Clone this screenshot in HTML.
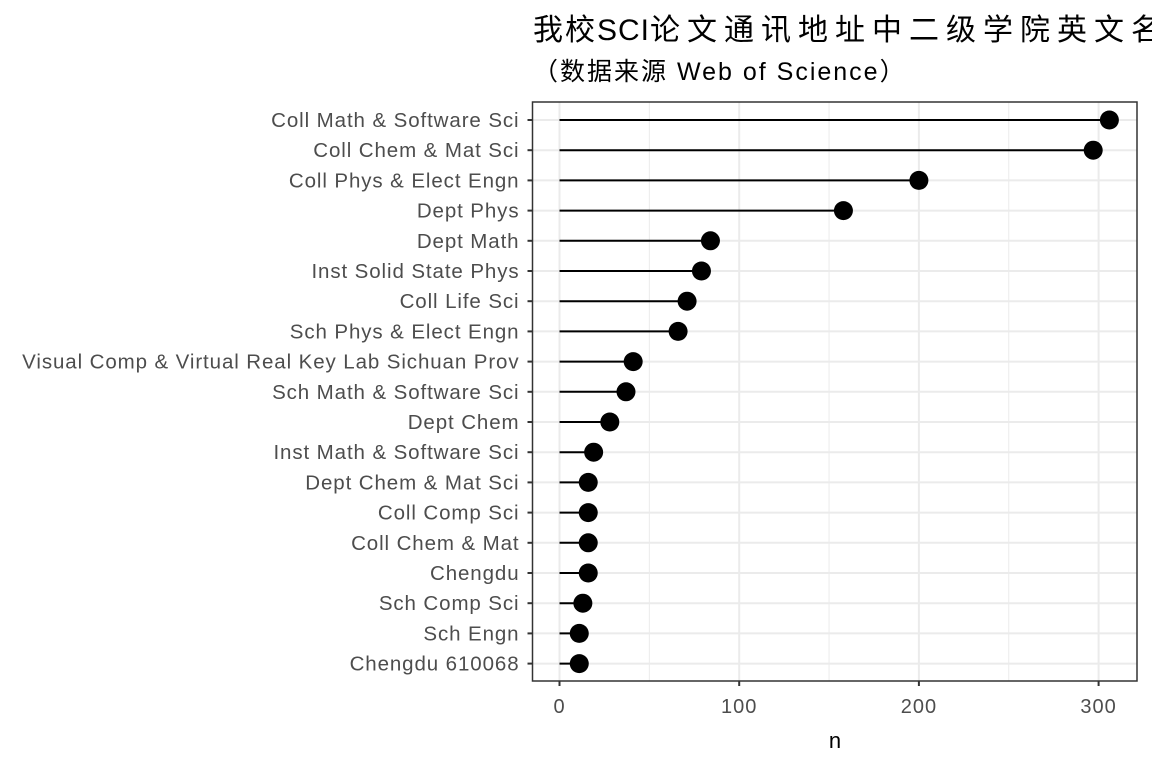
<!DOCTYPE html>
<html><head><meta charset="utf-8"><style>
body{margin:0;background:#fff;width:1152px;height:768px;overflow:hidden}
svg text{font-family:"Liberation Sans","Noto Sans CJK SC",sans-serif}
</style></head><body>
<svg id="chart" width="1152" height="768">
<text x="533" y="40" font-size="30" fill="#000"><tspan letter-spacing="2">我校</tspan><tspan letter-spacing="1">SCI</tspan><tspan letter-spacing="7">论文通讯地址中二级学院英文名称</tspan></text>
<text x="533" y="80" font-size="25" letter-spacing="2" fill="#000">（数据来源 Web of Science）</text>
<g id="grid"></g><g id="marks"></g><g id="axes"></g>
<text x="835" y="748" font-size="22" text-anchor="middle" fill="#000">n</text>
</svg>
<script>
const categories=["Coll Math & Software Sci","Coll Chem & Mat Sci","Coll Phys & Elect Engn","Dept Phys","Dept Math","Inst Solid State Phys","Coll Life Sci","Sch Phys & Elect Engn","Visual Comp & Virtual Real Key Lab Sichuan Prov","Sch Math & Software Sci","Dept Chem","Inst Math & Software Sci","Dept Chem & Mat Sci","Coll Comp Sci","Coll Chem & Mat","Chengdu","Sch Comp Sci","Sch Engn","Chengdu 610068"];
const values=[306,297,200,158,84,79,71,66,41,37,28,19,16,16,16,16,13,11,11];
const xTicks=[0,100,200,300];
const xMinor=[50,150,250];
const NS="http://www.w3.org/2000/svg";
const L=532.5,R=1137,T=102,B=681;
const x=v=>559.5+v*1.797;
const y=i=>120+i*30.2;
function mk(tag,attrs,parent,text){const e=document.createElementNS(NS,tag);for(const k in attrs)e.setAttribute(k,attrs[k]);if(text!=null)e.textContent=text;document.getElementById(parent).appendChild(e);return e;}
const bg=mk('rect',{x:L,y:T,width:R-L,height:B-T,fill:'#fff'},'grid');


xMinor.forEach(v=>{const l=mk('line',{x1:x(v),x2:x(v),y1:T,y2:B,stroke:'#ebebeb','stroke-width':1},'grid');

});
xTicks.forEach(v=>{const l=mk('line',{x1:x(v),x2:x(v),y1:T,y2:B,stroke:'#ebebeb','stroke-width':2},'grid');


const t=mk('line',{x1:x(v),x2:x(v),y1:B,y2:B+5,stroke:'#333','stroke-width':2},'axes');


const tl=mk('text',{x:x(v),y:B+32,'font-size':20,'letter-spacing':1,fill:'#4d4d4d','text-anchor':'middle'},'axes',v);

});
categories.forEach((c,i)=>{const g=mk('line',{x1:L,x2:R,y1:y(i),y2:y(i),stroke:'#ebebeb','stroke-width':2},'grid');


const s=mk('line',{x1:x(0),x2:x(values[i]),y1:y(i),y2:y(i),stroke:'#000','stroke-width':2},'marks');


const d=mk('circle',{cx:x(values[i]),cy:y(i),r:9.5,fill:'#000'},'marks');


const t=mk('line',{x1:L-5,x2:L,y1:y(i),y2:y(i),stroke:'#333','stroke-width':2},'axes');


const tl=mk('text',{x:L-13,y:y(i)+7,'font-size':20.5,'letter-spacing':0.9,fill:'#4d4d4d','text-anchor':'end'},'axes',c);

});
const fr=mk('rect',{x:L,y:T,width:R-L,height:B-T,fill:'none',stroke:'#333','stroke-width':1.5},'axes');


</script>
</body></html>
